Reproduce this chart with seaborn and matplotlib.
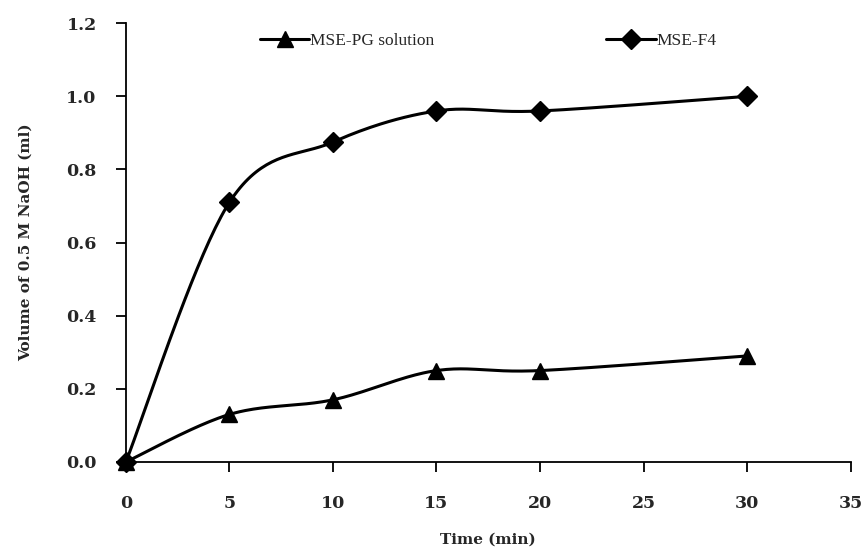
import numpy as np
import pandas as pd
import matplotlib
matplotlib.use("Agg")
import matplotlib.pyplot as plt
import seaborn as sns

time_min = [0, 5, 10, 15, 20, 30]
mse_pg = [0.0, 0.13, 0.17, 0.25, 0.25, 0.29]
mse_f4 = [0.0, 0.71, 0.875, 0.96, 0.96, 1.0]
series_names = ["MSE-PG solution", "MSE-F4"]
x_ticks = [0, 5, 10, 15, 20, 25, 30, 35]
y_ticks = [0.0, 0.2, 0.4, 0.6, 0.8, 1.0, 1.2]


def smooth(x, y, n=40):
    # bezier smoothing like excel's "smoothed line"
    p = np.column_stack([x, y]).astype(float)
    pp = np.vstack([p[0], p, p[-1]])
    out = []
    t = np.linspace(0, 1, n)[:, None]
    for i in range(len(p) - 1):
        p0, p1 = pp[i + 1], pp[i + 2]
        c1 = p0 + (pp[i + 2] - pp[i]) / 6
        c2 = p1 - (pp[i + 3] - pp[i + 1]) / 6
        seg = ((1 - t) ** 3) * p0 + 3 * ((1 - t) ** 2) * t * c1 + 3 * (1 - t) * t ** 2 * c2 + t ** 3 * p1
        out.append(seg if i == 0 else seg[1:])
    out = np.vstack(out)
    return out[:, 0], out[:, 1]


sns.set_style("white")
plt.rcParams['font.family'] = ['DejaVu Serif']

fig = plt.figure(figsize=(8.68, 5.53), dpi=100)
ax = fig.add_axes([0.145, 0.1646, 0.835, 0.7934])

markers = ["^", "D"]
sizes = [12, 10]
for name, vals, mk, ms in zip(series_names, [mse_pg, mse_f4], markers, sizes):
    sx, sy = smooth(time_min, vals)
    sns.lineplot(x=sx, y=sy, ax=ax, color="black", lw=2.2, sort=False, estimator=None)
    ax.plot(time_min, vals, linestyle="none", marker=mk, color="black", markersize=ms)
    ax.plot([], [], color="black", lw=2.2, marker=mk, markersize=ms, label=name)

ax.set_xlim(0, 35)
ax.set_ylim(0, 1.2)
ax.set_xticks(x_ticks)
ax.set_yticks(y_ticks)
ax.set_xticklabels([str(v) for v in x_ticks], fontsize=12.5, fontweight="bold")
ax.set_yticklabels([f"{v:.1f}" for v in y_ticks], fontsize=12.5, fontweight="bold")
ax.tick_params(axis="both", direction="out", length=7, width=1.3, color="black",
               bottom=True, left=True)
ax.tick_params(axis="x", pad=17)
ax.tick_params(axis="y", pad=14)
for s in ["top", "right"]:
    ax.spines[s].set_visible(False)
for s in ["left", "bottom"]:
    ax.spines[s].set_color("black")
    ax.spines[s].set_linewidth(1.3)
ax.margins(0)

ax.set_xlabel("Time (min)", fontsize=11, fontweight="bold", labelpad=15)
ax.set_ylabel("Volume of 0.5 M NaOH (ml)", fontsize=11, fontweight="bold", labelpad=24)

leg = ax.legend(loc="center", bbox_to_anchor=(0.5, 0.96), ncol=2, frameon=False,
                columnspacing=9.9, handlelength=2.85, handletextpad=0.05,
                prop={"family": "Liberation Serif", "size": 12.5})

for line in ax.lines:
    line.set_clip_on(False)

fig.savefig("out.png", dpi=100)
